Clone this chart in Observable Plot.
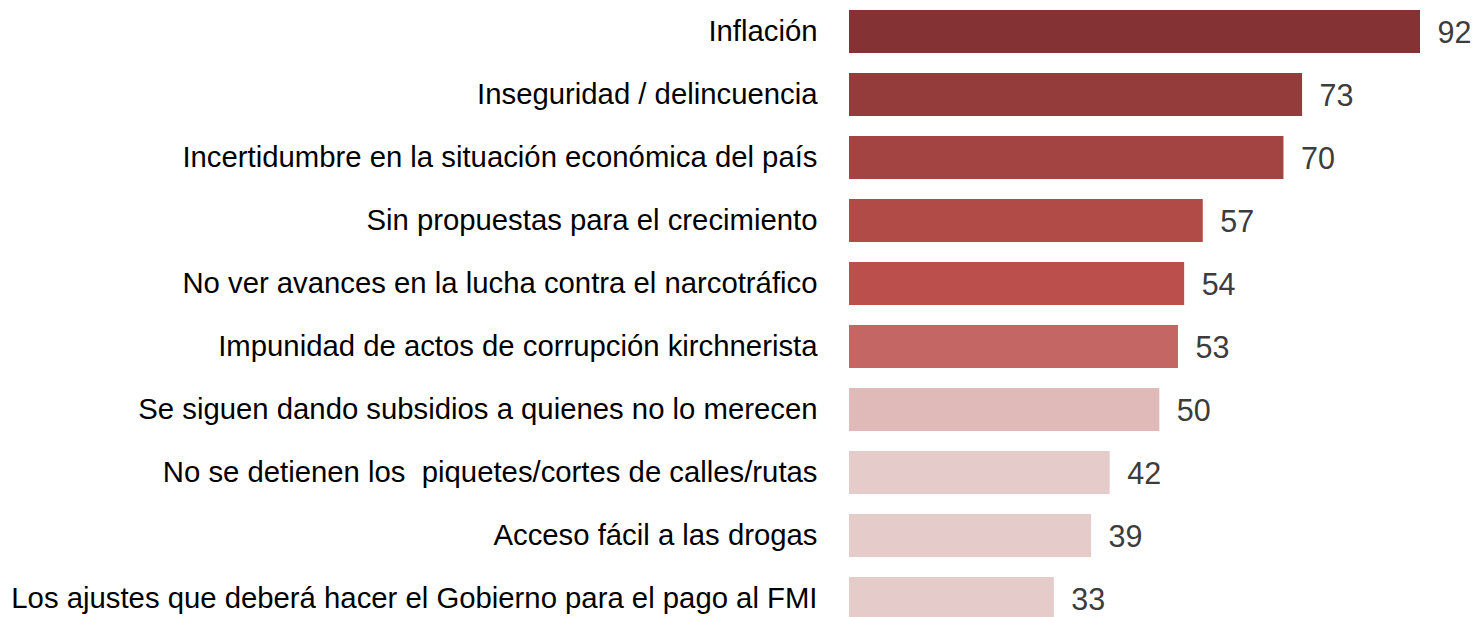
<!DOCTYPE html>
<html>
<head>
<meta charset="utf-8">
<script src="https://cdn.jsdelivr.net/npm/d3@7"></script>
<script src="https://cdn.jsdelivr.net/npm/@observablehq/plot@0.6"></script>
<style>
  html, body { margin: 0; padding: 0; background: #fff; overflow: hidden; }
</style>
</head>
<body>
<div id="chart"></div>
<script>
const categories = [
  "Inflación",
  "Inseguridad / delincuencia",
  "Incertidumbre en la situación económica del país",
  "Sin propuestas para el crecimiento",
  "No ver avances en la lucha contra el narcotráfico",
  "Impunidad de actos de corrupción kirchnerista",
  "Se siguen dando subsidios a quienes no lo merecen",
  "No se detienen los  piquetes/cortes de calles/rutas",
  "Acceso fácil a las drogas",
  "Los ajustes que deberá hacer el Gobierno para el pago al FMI"
];
const values = [92, 73, 70, 57, 54, 53, 50, 42, 39, 33];
const colors = ["#853235", "#943b3b", "#a34442", "#b04b48", "#bb4f4c", "#c46664", "#e0b9b9", "#e6cbcb", "#e6cbcb", "#e6cbcb"];

const data = categories.map((c, i) => ({category: c, value: values[i], color: colors[i]}));

const chart = Plot.plot({
  width: 1477,
  height: 617,
  marginLeft: 849,
  marginRight: 57,
  marginTop: 0,
  marginBottom: 0,
  style: {fontFamily: "'Liberation Sans', Arial, sans-serif", background: "#fff"},
  x: {domain: [0, 92], axis: null},
  y: {domain: categories, range: [3, 626], paddingInner: 0.32, paddingOuter: 0.1, label: null},
  marks: [
    Plot.barX(data, {x: "value", y: "category", fill: "color"}),
    Plot.axisY({tickSize: 0, tickPadding: 32, fontSize: 29.3, label: null, color: "#000"}),
    Plot.text(data, {x: "value", y: "category", text: d => String(d.value), dx: 17, dy: 1, textAnchor: "start", fontSize: 30.5, fill: "#3c3c3c"})
  ]
});
document.getElementById("chart").appendChild(chart);
</script>
</body>
</html>
